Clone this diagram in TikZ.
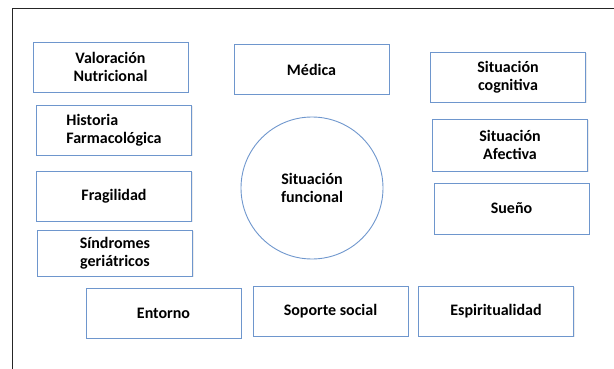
\documentclass[tikz,border=0pt]{standalone}
\usepackage{fontspec}
\setsansfont{Carlito}
\usetikzlibrary{shadows}

\definecolor{boxblue}{RGB}{110,150,205}

\begin{document}
\begin{tikzpicture}
  [x=1pt,y=-1pt,
   every node/.style={draw=boxblue,line width=0.9pt,align=center,inner sep=0pt,
     font=\sffamily\bfseries\fontsize{16}{18.5}\selectfont},
   caja/.style={rectangle,minimum width=155pt,minimum height=50pt,fill=white,
     drop shadow={opacity=0.15,shadow xshift=1pt,shadow yshift=-1pt}}]

  \useasboundingbox (0,0) rectangle (614,369);
  \draw[line width=1pt,black!85] (614,9) -- (12,9) -- (12,369);

  \node[caja] (n1) at (110.5,67)  {Valoración\\Nutricional};
  \node[caja] (n2) at (311.5,69.5)  {Médica};
  \node[caja,align=left] (n3) at (114,130)  {Historia\\Farmacológica};
  \node[caja] (n4) at (114,196)  {Fragilidad};
  \node[caja,minimum height=46pt] (n5) at (115,253)  {Síndromes\\geriátricos};
  \node[caja] (n6) at (163.5,313)  {Entorno};
  \node[caja] (n7) at (330.5,311)  {Soporte social};
  \node[caja] (n8) at (496,311)  {Espiritualidad};
  \node[caja] (n9) at (508,77)  {Situación\\cognitiva};
  \node[caja,minimum height=52pt] (n10) at (510,145)  {Situación\\Afectiva};
  \node[caja,minimum height=51pt] (n11) at (511.5,208.5)  {Sueño};
  \node[circle,minimum size=142pt] (c) at (312,188)  {Situación\\funcional};
\end{tikzpicture}
\end{document}
